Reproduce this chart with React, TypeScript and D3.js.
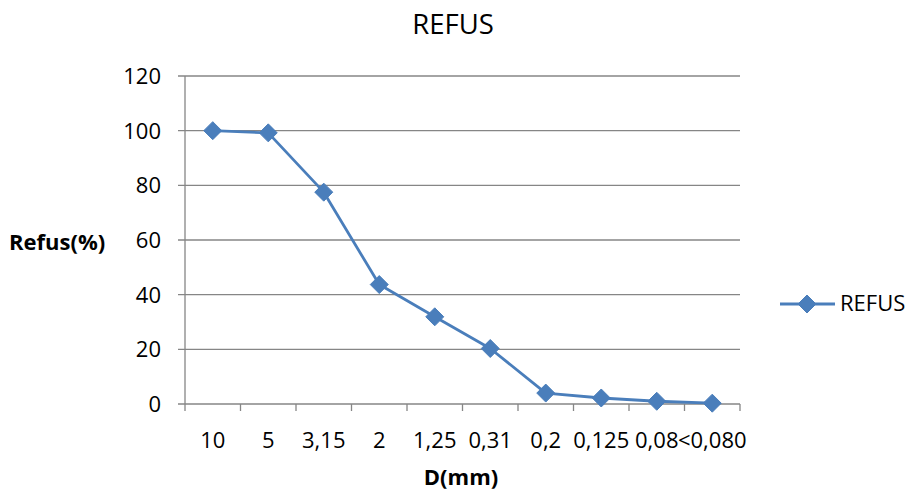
import React from "react";
import * as d3 from "d3";

const categories = ["10", "5", "3,15", "2", "1,25", "0,31", "0,2", "0,125", "0,08", "<0,080"];
const refusValues = [100, 99.2, 77.5, 43.7, 31.9, 20.3, 4.0, 2.2, 1.0, 0.3];
const yTicks = [0, 20, 40, 60, 80, 100, 120];
const seriesName = "REFUS";
const chartTitle = "REFUS";
const xTitle = "D(mm)";
const yTitle = "Refus(%)";

const W = 909;
const H = 490;
const left = 185;
const right = 740;
const top = 76;
const bottom = 404;
const FONT = "'Open Sans', sans-serif";
const BLUE = "#4a7ebb";
const GRID = "#868686";

function diamond(cx: number, cy: number, r: number) {
  return `M${cx},${cy - r}L${cx + r},${cy}L${cx},${cy + r}L${cx - r},${cy}Z`;
}

export default function App() {
  const x = d3.scaleBand<string>().domain(categories).range([left, right]).paddingInner(0).paddingOuter(0);
  const y = d3.scaleLinear().domain([0, 120]).range([bottom, top]);
  const cx = (c: string) => (x(c) as number) + x.bandwidth() / 2;
  const line = d3
    .line<number>()
    .x((_, i) => cx(categories[i]))
    .y((v) => y(v));
  const boundaries = categories.map((c) => x(c) as number).concat([right]);

  return (
    <svg
      width={W}
      height={H}
      style={{ position: "absolute", left: 0, top: 0, background: "#fff" }}
      fontFamily={FONT}
    >
      <rect x={0} y={0} width={W} height={H} fill="#fff" />
      {yTicks.map((t) => (
        <line key={"g" + t} x1={left - 7} x2={right} y1={y(t)} y2={y(t)} stroke={GRID} strokeWidth={1.3} />
      ))}
      <line x1={left} x2={left} y1={top} y2={bottom} stroke={GRID} strokeWidth={1.3} />
      {yTicks.map((t) => (
        <text key={"yt" + t} x={left - 24} y={y(t)} dy="0.36em" textAnchor="end" fontSize={22} fill="#000">
          {t}
        </text>
      ))}
      {boundaries.map((b, i) => (
        <line key={"xt" + i} x1={b} x2={b} y1={bottom} y2={bottom + 7} stroke={GRID} strokeWidth={1.3} />
      ))}
      {categories.map((c) => (
        <text key={"xl" + c} x={cx(c)} y={448} textAnchor="middle" fontSize={22} fill="#000">
          {c}
        </text>
      ))}
      <path d={line(refusValues) || ""} fill="none" stroke={BLUE} strokeWidth={2.8} strokeLinejoin="round" />
      {refusValues.map((v, i) => (
        <path key={"m" + i} d={diamond(cx(categories[i]), y(v), 9)} fill={BLUE} stroke={BLUE} strokeWidth={1} />
      ))}
      <text x={453} y={34} textAnchor="middle" fontSize={27.5} fill="#000">
        {chartTitle}
      </text>
      <text x={461} y={485} textAnchor="middle" fontSize={22} fontWeight="bold" fill="#000">
        {xTitle}
      </text>
      <text x={9} y={250} textAnchor="start" fontSize={22} fontWeight="bold" fill="#000">
        {yTitle}
      </text>
      <line x1={780} x2={835} y1={304} y2={304} stroke={BLUE} strokeWidth={2.8} />
      <path d={diamond(807, 304, 9)} fill={BLUE} stroke={BLUE} strokeWidth={1} />
      <text x={840} y={311} fontSize={22} fill="#000">
        {seriesName}
      </text>
    </svg>
  );
}
